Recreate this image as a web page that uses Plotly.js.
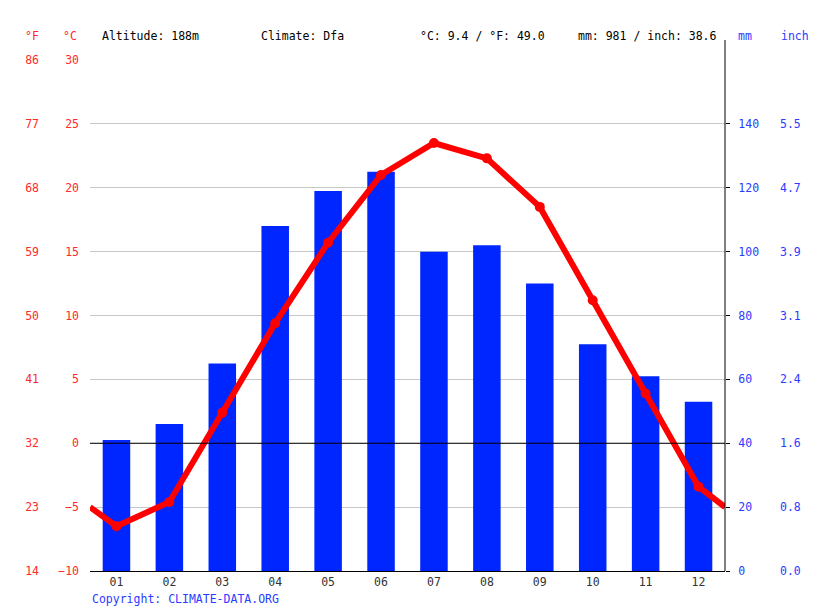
<!DOCTYPE html>
<html>
<head>
<meta charset="utf-8">
<script src="https://cdn.plot.ly/plotly-3.0.1.min.js"></script>
<style>html,body{margin:0;padding:0;background:#fff;}#chart{width:815px;height:611px;}</style>
</head>
<body>
<div id="chart"></div>
<script>
// ---- data ----
const months = [1,2,3,4,5,6,7,8,9,10,11,12];
const monthLabels = ['01','02','03','04','05','06','07','08','09','10','11','12'];
const tempC = [-6.5,-4.6,2.4,9.4,15.7,21.0,23.5,22.3,18.5,11.2,3.9,-3.4];
const precipMm = [41,46,65,108,119,125,100,102,90,71,61,53];
// temperature line continues to the chart edges (Dec/Jan wrap), values read at the edges
const edgeX = [0.5,12.5];
const edgeTempC = [-5.0,-5.0];
const cTicks = [-10,-5,0,5,10,15,20,25,30];
const fLabels = ['14','23','32','41','50','59','68','77','86'];
const mmTicks = [0,20,40,60,80,100,120,140];
const inchLabels = ['0.0','0.8','1.6','2.4','3.1','3.9','4.7','5.5'];
const header = {
  altitude: 'Altitude: 188m',
  climate: 'Climate: Dfa',
  temp: '°C: 9.4 / °F: 49.0',
  precip: 'mm: 981 / inch: 38.6'
};

// ---- layout geometry ----
const W = 815, H = 611;
const L = 90, R = 725, T = 60, B = 571;
const px = v => v / W;
const py = v => 1 - v / H;
const FONT = 'DejaVu Sans Mono';
const FS = 11.5;
const RED = '#ff0000';
const LRED = '#ff2a2a';
const BLUE = '#0026ff';
const LBLUE = '#2a3cff';

const lineX = [edgeX[0]].concat(months, [edgeX[1]]);
const lineY = [edgeTempC[0]].concat(tempC, [edgeTempC[1]]);

const traces = [
  {type:'bar', x: months, y: precipMm, xaxis:'x', yaxis:'y', width:0.52,
   marker:{color:BLUE}, hoverinfo:'skip'},
  // same precipitation on the inch scale (transparent; carries the inch axis)
  {type:'bar', x: months, y: precipMm, xaxis:'x', yaxis:'y2', width:0.52,
   marker:{color:'rgba(0,0,0,0)'}, hoverinfo:'skip'},
  {type:'scatter', mode:'lines', x: lineX, y: lineY, xaxis:'x', yaxis:'y3',
   line:{color:RED, width:6}, hoverinfo:'skip'},
  {type:'scatter', mode:'markers', x: months, y: tempC, xaxis:'x', yaxis:'y4',
   marker:{color:RED, size:10}, hoverinfo:'skip'}
];

const yDom = [py(B), py(T)];
const tf = c => ({family:FONT, size:FS, color:c});
const layout = {
  width: W, height: H,
  margin:{l:0, r:0, t:0, b:0},
  paper_bgcolor:'#fff', plot_bgcolor:'rgba(0,0,0,0)',
  showlegend:false,
  font:{family:FONT, size:FS, color:'#000'},
  xaxis:{domain:[px(L), px(R)], range:[0.5,12.5], tickvals: months, ticktext: monthLabels,
    ticks:'', showgrid:false, zeroline:false, showline:true, linecolor:'#000', linewidth:1,
    tickfont:tf('#333'), anchor:'y'},
  xaxis2:{domain:[px(L), px(R)], range:[0.5,12.5], overlaying:'x', anchor:'y',
    tickvals:[0.5,1.5,2.5,3.5,4.5,5.5,6.5,7.5,8.5,9.5,10.5,11.5,12.5],
    ticks:'outside', ticklen:5, tickcolor:'#000', showticklabels:false,
    showgrid:false, zeroline:false, showline:false, side:'bottom'},
  // mm axis (bars)
  yaxis:{domain:yDom, range:[0,160], tickvals:mmTicks, anchor:'free', position:px(R), side:'right',
    showgrid:false, zeroline:false, showline:false,
    ticks:'outside', ticklen:4, tickcolor:'#000', ticklabelstandoff:6, tickfont:tf(LBLUE)},
  // inch axis
  yaxis2:{domain:yDom, range:[0,160], tickvals:mmTicks, ticktext:inchLabels, overlaying:'y',
    anchor:'free', position:px(776), side:'right', showgrid:false, zeroline:false, showline:false,
    ticks:'', ticklabelstandoff:3, tickfont:tf(LBLUE)},
  // °C axis (line, grid)
  yaxis3:{domain:yDom, range:[-10,30], tickvals:cTicks, overlaying:'y', anchor:'free', position:px(L), side:'left',
    showgrid:true, gridcolor:'#c8c8c8', gridwidth:1, zeroline:false,
    showline:false, ticks:'', ticklabelstandoff:11, tickfont:tf(LRED)},
  // °F axis (markers, same °C scale)
  yaxis4:{domain:yDom, range:[-10,30], tickvals:cTicks, ticktext:fLabels, overlaying:'y',
    anchor:'free', position:px(50), side:'left', showgrid:false, zeroline:false, showline:false,
    ticks:'', ticklabelstandoff:11, tickfont:tf(LRED)},
  shapes:[
    {type:'line', xref:'paper', yref:'paper', x0:px(R), x1:px(R), y0:py(40), y1:py(B),
     line:{color:'#000', width:1}},
    {type:'line', xref:'paper', yref:'y3', x0:px(L), x1:px(R), y0:0, y1:0, layer:'above',
     line:{color:'#000', width:1}}
  ],
  annotations:[
    {text:'°F', x:px(32), y:py(36), xanchor:'center', c:LRED},
    {text:'°C', x:px(70), y:py(36), xanchor:'center', c:LRED},
    {text:header.altitude, x:px(100), y:py(36), xanchor:'left'},
    {text:header.climate, x:px(259), y:py(36), xanchor:'left'},
    {text:header.temp, x:px(418), y:py(36), xanchor:'left'},
    {text:header.precip, x:px(576), y:py(36), xanchor:'left'},
    {text:'mm', x:px(745), y:py(36), xanchor:'center', c:LBLUE},
    {text:'inch', x:px(779), y:py(36), xanchor:'left', c:LBLUE},
    {text:'Copyright: CLIMATE-DATA.ORG', x:px(90), y:py(599), xanchor:'left', c:LBLUE}
  ].map(a => ({text:a.text, x:a.x, y:a.y, xanchor:a.xanchor, xref:'paper', yref:'paper',
      yanchor:'middle', showarrow:false, font:tf(a.c || '#000')}))
};

Plotly.newPlot('chart', traces, layout, {staticPlot:true, displayModeBar:false});
</script>
</body>
</html>
